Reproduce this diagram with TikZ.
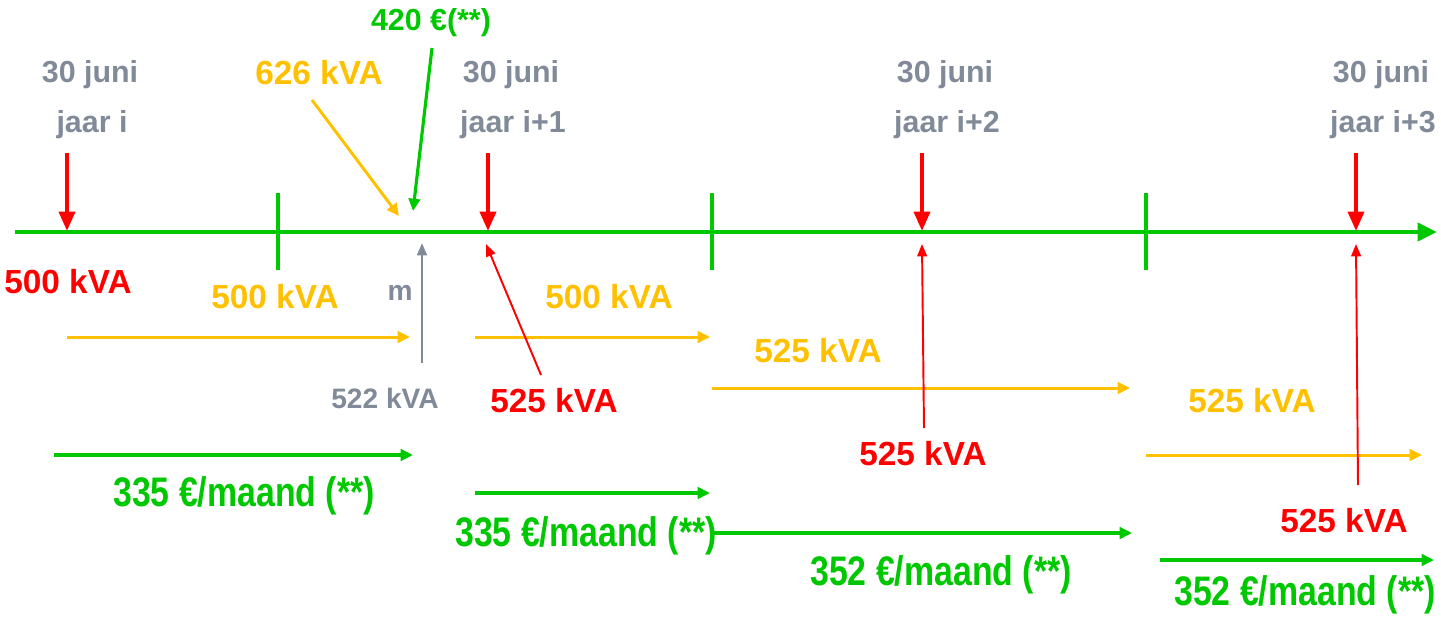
\documentclass[tikz,border=0pt]{standalone}
\usepackage{fontspec}
\setmainfont{Liberation Sans}
\usepackage{graphicx}
\usetikzlibrary{arrows.meta}
\definecolor{tlgreen}{RGB}{0,200,0}
\definecolor{tlyellow}{RGB}{255,192,0}
\definecolor{tlred}{RGB}{255,0,0}
\definecolor{tlgray}{RGB}{128,138,152}
\newcommand*{\narrowtext}[1]{\scalebox{0.82}[1]{#1}}

\begin{document}
\begin{tikzpicture}[x=0.02cm, y=-0.02cm,
	lbl/.style={inner sep=0pt, text depth=0pt, text height=0.72em, yshift=-2.3pt, font=\bfseries\fontsize{19}{19}\selectfont},
	datelbl/.style={lbl, text=tlgray, font=\bfseries\fontsize{17.3}{17.3}\selectfont},
	eurolbl/.style={lbl, yshift=-1.3pt, text=tlgreen, font=\bfseries\fontsize{23.5}{23.5}\selectfont},
	axisline/.style={tlgreen, line width=2.8pt, -{Triangle[length=11pt, width=10pt]}},
	ticksign/.style={tlgreen, line width=2.8pt},
	datearrow/.style={tlred, line width=2.3pt, -{Triangle[length=11pt, width=9pt]}},
	kvaarrow/.style={tlyellow, line width=1.7pt, -{Triangle[length=7pt, width=6.5pt]}},
	euroarrow/.style={tlgreen, line width=1.8pt, -{Triangle[length=7pt, width=6.5pt]}},
	thinred/.style={tlred, line width=1.1pt, -{Triangle[length=7pt, width=5.5pt]}},
	thingray/.style={tlgray, line width=1.4pt, -{Triangle[length=7pt, width=5.5pt]}}]
	\useasboundingbox (0,0) rectangle (1441,616);

	% time axis
	\coordinate (ax0) at (15,232);
	\coordinate (ax1) at (1437,232);
	\draw[axisline] (ax0) -- (ax1);
	\foreach \x in {278,712,1146}
		\draw[ticksign] (\x,193) -- (\x,270);

	% 30 juni markers
	\foreach \x/\lx/\yr [count=\i] in {67/92/{jaar i}, 488/513/{jaar i+1}, 922/947/{jaar i+2}, 1356/1383/{jaar i+3}}{
		\node[datelbl] (juni\i) at (\lx-2,72) {30 juni};
		\node[datelbl] (jaar\i) at (\lx,122) {\yr};
		\coordinate (top\i) at (\x,153);
		\coordinate (tip\i) at (\x,231);
		\draw[datearrow] (top\i) -- (tip\i);
	}

	% kVA labels
	\node[lbl, text=tlred] (kva0) at (68,283) {500 kVA};
	\node[lbl, text=tlyellow] (ya) at (275,298) {500 kVA};
	\node[lbl, text=tlyellow] (yb) at (609,298) {500 kVA};
	\node[lbl, text=tlyellow] (yc) at (818,352) {525 kVA};
	\node[lbl, text=tlyellow] (yd) at (1252,402) {525 kVA};
	\node[lbl, text=tlyellow] (piek) at (319,74) {626 kVA};
	\node[lbl, text=tlred] (ra) at (554,402) {525 kVA};
	\node[lbl, text=tlred] (rb) at (923,455) {525 kVA};
	\node[lbl, text=tlred] (rc) at (1344,522) {525 kVA};
	\node[datelbl, font=\bfseries\fontsize{16}{16}\selectfont] (meet) at (385,398) {522 kVA};
	\node[datelbl, font=\bfseries\fontsize{16}{16}\selectfont] (m) at (400,290) {m};
	\node[lbl, text=tlgreen, font=\bfseries\fontsize{17.3}{17.3}\selectfont] (boete) at (431,20) {420 €(**)};

	% euro labels
	\node[eurolbl] (ea) at (244,494) {\narrowtext{335 €/maand (**)}};
	\node[eurolbl] (eb) at (586,534) {\narrowtext{335 €/maand (**)}};
	\node[eurolbl] (ec) at (941,573) {\narrowtext{352 €/maand (**)}};
	\node[eurolbl] (ed) at (1305,593) {\narrowtext{352 €/maand (**)}};

	% yellow periods
	\coordinate (y1s) at (67,337);   \coordinate (y1e) at (410,337);
	\coordinate (y2s) at (475,337);  \coordinate (y2e) at (710,337);
	\coordinate (y3s) at (712,388);  \coordinate (y3e) at (1130,388);
	\coordinate (y4s) at (1146,455); \coordinate (y4e) at (1422,455);
	\draw[kvaarrow] (y1s) -- (y1e);
	\draw[kvaarrow] (y2s) -- (y2e);
	\draw[kvaarrow] (y3s) -- (y3e);
	\draw[kvaarrow] (y4s) -- (y4e);

	% green periods
	\coordinate (g1s) at (54,455);   \coordinate (g1e) at (413,455);
	\coordinate (g2s) at (475,493);  \coordinate (g2e) at (710,493);
	\coordinate (g3s) at (710,533);  \coordinate (g3e) at (1132,533);
	\coordinate (g4s) at (1160,560); \coordinate (g4e) at (1434,560);
	\draw[euroarrow] (g1s) -- (g1e);
	\draw[euroarrow] (g2s) -- (g2e);
	\draw[euroarrow] (g3s) -- (g3e);
	\draw[euroarrow] (g4s) -- (g4e);

	% pointers to the axis
	\coordinate (piekS) at (312,100); \coordinate (piekE) at (399,216);
	\draw[kvaarrow] (piekS) -- (piekE);
	\coordinate (boeteS) at (432,48); \coordinate (boeteE) at (413,211);
	\draw[euroarrow] (boeteS) -- (boeteE);
	\coordinate (meetS) at (422,363); \coordinate (meetE) at (422,243);
	\draw[thingray] (meetS) -- (meetE);
	\coordinate (raS) at (541,375); \coordinate (raE) at (486,244);
	\draw[thinred] (raS) -- (raE);
	\coordinate (rbS) at (924,428); \coordinate (rbE) at (922,244);
	\draw[thinred] (rbS) -- (rbE);
	\coordinate (rcS) at (1358,485); \coordinate (rcE) at (1356,244);
	\draw[thinred] (rcS) -- (rcE);
\end{tikzpicture}
\end{document}
